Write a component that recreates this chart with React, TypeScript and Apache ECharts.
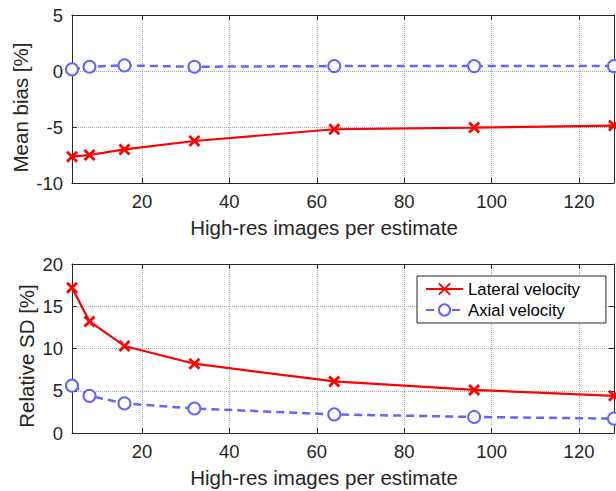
import React, { useEffect, useRef } from 'react';
import * as echarts from 'echarts';

const imagesPerEstimate = [4, 8, 16, 32, 64, 96, 128];
const lateralBias = [-7.65, -7.5, -7.0, -6.25, -5.2, -5.05, -4.87];
const axialBias = [0.15, 0.38, 0.5, 0.38, 0.44, 0.44, 0.44];
const lateralSD = [17.2, 13.2, 10.3, 8.2, 6.1, 5.1, 4.4];
const axialSD = [5.6, 4.4, 3.5, 2.9, 2.2, 1.9, 1.7];
const xTicks = [20, 40, 60, 80, 100, 120];
const biasTicks = [-10, -5, 0, 5];
const sdTicks = [0, 5, 10, 15, 20];
const seriesNames = ['Lateral velocity', 'Axial velocity'];
const xLabel = 'High-res images per estimate';
const biasLabel = 'Mean bias [%]';
const sdLabel = 'Relative SD [%]';

const FONT = '"Liberation Sans", Arial, Helvetica, sans-serif';
const AX = '#262626';
const RED = '#ff0000';
const BLUE = '#6464ff';
const X_PATH = 'path://M0,0L10,10M10,0L0,10';

function pairs(ys: number[]) {
  return imagesPerEstimate.map((x, i) => [x, ys[i]]);
}

function xAxes(gridIndex: number) {
  const base = {
    type: 'value' as const,
    gridIndex,
    min: imagesPerEstimate[0],
    max: imagesPerEstimate[imagesPerEstimate.length - 1],
    axisLine: { show: true, onZero: false, lineStyle: { color: AX, width: 1 } },
    axisTick: { show: true, inside: true, length: 5, customValues: xTicks, lineStyle: { color: AX } },
  };
  return [
    {
      ...base,
      position: 'bottom',
      axisLabel: { show: true, customValues: xTicks, margin: 9, color: AX, fontSize: 18.5, fontFamily: FONT },
      splitLine: { show: true, lineStyle: { color: '#a8a8a8', type: 'dotted', width: 1 } },
    },
    {
      ...base,
      position: 'top',
      axisLabel: { show: false },
      splitLine: { show: false },
    },
  ];
}

function yAxes(gridIndex: number, ticks: number[]) {
  const base = {
    type: 'value' as const,
    gridIndex,
    min: ticks[0],
    max: ticks[ticks.length - 1],
    interval: ticks[1] - ticks[0],
    axisLine: { show: true, onZero: false, lineStyle: { color: AX, width: 1 } },
    axisTick: { show: true, inside: true, length: 5, lineStyle: { color: AX } },
  };
  return [
    {
      ...base,
      position: 'left',
      axisLabel: { show: true, margin: 9, color: AX, fontSize: 18.5, fontFamily: FONT },
      splitLine: { show: true, lineStyle: { color: '#a8a8a8', type: 'dotted', width: 1 } },
    },
    {
      ...base,
      position: 'right',
      axisLabel: { show: false },
      splitLine: { show: false },
    },
  ];
}

function lateral(ys: number[], xi: number, yi: number) {
  return {
    name: seriesNames[0],
    type: 'line',
    xAxisIndex: xi,
    yAxisIndex: yi,
    data: pairs(ys),
    symbol: X_PATH,
    symbolSize: 10,
    lineStyle: { color: RED, width: 2.2 },
    itemStyle: { color: RED, borderColor: RED, borderWidth: 2.8 },
    z: 3,
  };
}

function axial(ys: number[], xi: number, yi: number) {
  return {
    name: seriesNames[1],
    type: 'line',
    xAxisIndex: xi,
    yAxisIndex: yi,
    data: pairs(ys),
    symbol: 'emptyCircle',
    symbolSize: 12,
    lineStyle: { color: BLUE, width: 2.5, type: [8, 5] },
    itemStyle: { color: BLUE, borderColor: BLUE, borderWidth: 2.5 },
    z: 4,
  };
}

export default function App() {
  const ref = useRef<HTMLDivElement>(null);
  useEffect(() => {
    if (!ref.current) return;
    const chart = echarts.init(ref.current, undefined, { renderer: 'svg' });
    chart.setOption({
      animation: false,
      backgroundColor: '#ffffff',
      textStyle: { fontFamily: FONT },
      grid: [
        { left: 72, top: 15, width: 542, height: 168 },
        { left: 72, top: 264, width: 542, height: 169 },
      ],
      xAxis: [...xAxes(0), ...xAxes(1)],
      yAxis: [...yAxes(0, biasTicks), ...yAxes(1, sdTicks)],
      legend: {
        data: seriesNames,
        left: 417,
        top: 276,
        orient: 'vertical',
        backgroundColor: '#ffffff',
        borderColor: AX,
        borderWidth: 1,
        borderRadius: 0,
        padding: [4, 26, 4, 8],
        itemWidth: 37,
        itemHeight: 14,
        itemGap: 3,
        itemTextGap: 3,
        textStyle: { fontSize: 16.8, color: '#000', fontFamily: FONT, lineHeight: 18 },
      },
      series: [
        lateral(lateralBias, 0, 0),
        axial(axialBias, 0, 0),
        lateral(lateralSD, 2, 2),
        axial(axialSD, 2, 2),
      ],
      graphic: [
        { type: 'text', x: 20, y: 107.5, rotation: Math.PI / 2, style: { text: biasLabel, fontSize: 20.5, fontFamily: FONT, fill: AX, align: 'center', verticalAlign: 'middle' } },
        { type: 'text', x: 26, y: 356, rotation: Math.PI / 2, style: { text: sdLabel, fontSize: 20.5, fontFamily: FONT, fill: AX, align: 'center', verticalAlign: 'middle' } },
        { type: 'text', x: 324, y: 227, style: { text: xLabel, fontSize: 20.5, fontFamily: FONT, fill: AX, align: 'center', verticalAlign: 'middle' } },
        { type: 'text', x: 324, y: 477, style: { text: xLabel, fontSize: 20.5, fontFamily: FONT, fill: AX, align: 'center', verticalAlign: 'middle' } },
      ],
    });
    return () => chart.dispose();
  }, []);
  return <div ref={ref} style={{ position: 'absolute', left: 0, top: 0, width: 616, height: 491 }} />;
}
